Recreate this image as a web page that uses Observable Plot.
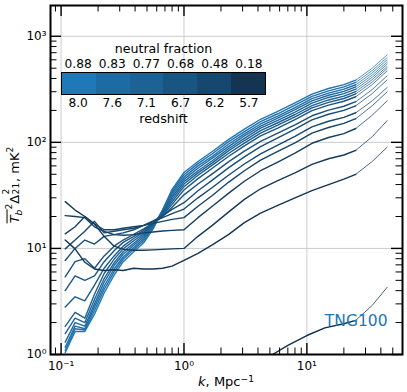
<!DOCTYPE html>
<html><head><meta charset="utf-8">
<script src="https://cdn.jsdelivr.net/npm/d3@7"></script>
<script src="https://cdn.jsdelivr.net/npm/@observablehq/plot@0.6"></script>
<style>
body{margin:0;background:#fff;}
#wrap{position:relative;width:407px;height:392px;font-family:"DejaVu Sans",sans-serif;color:#000;overflow:hidden;}
#wrap svg{position:absolute;left:0;top:0;}
.lab{position:absolute;white-space:nowrap;line-height:0.85;transform:translate(-50%,-50%);}
.lab sub,.lab sup{line-height:0;font-size:0.7em;}
.ss{display:inline-block;position:relative;width:1.0em;height:1em;}
.ss span{position:absolute;left:0.06em;font-size:0.7em;line-height:1;}
.ss .a{top:-0.42em;}
.ss .b{top:0.62em;}
.ov{display:inline-block;border-top:1px solid #000;padding-top:0.5px;line-height:1.15;}
</style></head><body><div id="wrap"></div>
<script>
// ---- data ----
const kThick = [0.108,0.13,0.156,0.187,0.224,0.27,0.32,0.39,0.47,0.56,0.67,0.8,1.0,1.3,1.7,2.3,3.1,4.2,5.8,8,11,15,20,25];
const kThin = [25,34,45];
// each line: thick part values at kThick, then thin values at 34, 45
const p0  = [1.04,1.65,1.65,2.4,3.8,5.6,7.5,9.3,11.3,15.2,23,36,52, 66,82,106,133,165,196,235,285,322,350,386, 500,668];
const p1  = [1.09,1.75,1.7,2.6,4.1,6.0,7.9,9.8,11.8,15.6,23,35,49.5, 63,78,101,126,157,186,224,271,306,333,367, 475,630];
const p2  = [1.17,1.85,1.75,2.8,4.4,6.4,8.3,10.2,12.3,15.9,23,33.5,47, 60,74,96,120,149,177,213,258,291,317,349, 452,600];
const p3  = [1.31,2.0,1.85,3.0,4.8,6.9,8.8,10.7,12.8,16.2,22.5,32,44.8, 57,71,91,115,142,169,203,246,278,302,333, 430,570];
const p4  = [1.57,2.2,2.0,3.3,5.2,7.3,9.3,11.2,13.3,16.5,22,30.5,42.6, 54,67,87,109,136,161,193,234,265,288,317, 410,546];
const p5  = [1.84,2.5,2.2,3.7,5.8,7.9,9.9,11.8,13.8,16.8,21.5,29,40.5, 51.5,64,83,104,129,153,183,222,251,273,301, 390,518];
const p6  = [2.8,3.5,3.2,4.5,6.5,8.5,10.5,12.4,14.3,17,21,27.5,38.2, 49,61,78.5,98.5,122,145,174,211,238,259,286, 370,497];
const p7  = [4.0,5.5,5,5.5,7.5,9.5,11.4,13,14.8,17.2,20.5,26,35.6, 45.5,57,73.5,92.5,115,136,164,199,224,244,269, 350,472];
const p8  = [5.4,7.5,8,6.5,8.5,10.5,12,13.6,15.3,17.3,20,24.5,32, 40.5,50.5,65.5,82.5,102,122,146,178,201,219,242, 314,424];
const p9  = [7.7,10,12,11,13,13.5,14,15,16.5,18.2,20.3,23.3,27, 35,44,57.5,73,91,110,133,163,184,200,221, 288,388];
const p10 = [9.9,12,14.5,18,14,14.5,15,15.5,16.5,17.8,19.5,21.3,23.5, 30,37.5,49,62.5,78,94,114,140,158,172,190, 246,329];
const p11 = [13.7,16,20,17,15,15,15.5,16,16.5,17.2,18,18.8,19.5, 25,31.5,42,54,68,82,99,122,138,151,167, 221,299];
const p12 = [20.4,20,19.5,16,14.5,13.5,13.3,13.5,14,14.3,14.6,14.8,15, 19.5,25,33,43,54,65,79,98,111,121,135, 180,246];
const p13 = [27.6,23,20,17,13,10.5,9.8,9.6,9.6,9.7,9.8,9.9,10, 13,16.5,22,29,36.5,43.5,51.5,62,70,76,84, 113,160];
const p14 = [12.0,9.9,7.4,6.4,6.2,6.3,6.2,6.5,6.4,6.4,6.5,6.8,7.7, 9,10.8,13.5,17.5,21.5,25.5,30,35,40,45,50, 66,90];
const lines = [p0,p1,p2,p3,p4,p5,p6,p7,p8,p9,p10,p11,p12,p13,p14];
// lowest (most ionised) line
const kLastThick = [4.8,5.26,7,10,14,20,25];
const pLastThick = [0.95,1.0,1.22,1.51,1.78,1.95,2.1];
const kLastThin = [25,34,45];
const pLastThin = [2.1,2.9,4.3];

// legend
const legendColors = ["#2178b6","#1e6ba3","#1c6294","#195582","#16486f","#143552"];
const neutralFraction = ["0.88","0.83","0.77","0.68","0.48","0.18"];
const redshift = ["8.0","7.6","7.1","6.7","6.2","5.7"];

// axes
const xMajor = [0.1,1,10];
const xTickLabels = ["10⁻¹","10⁰","10¹"];
const xMinor = [0.09,0.2,0.3,0.4,0.5,0.6,0.7,0.8,0.9,2,3,4,5,6,7,8,9,20,30,40,50];
const yMajor = [1,10,100,1000];
const yTickLabels = ["10⁰","10¹","10²","10³"];
const yMinor = [2,3,4,5,6,7,8,9,20,30,40,50,60,70,80,90,200,300,400,500,600,700,800,900];

// ---- build tables ----
const thickRows = [], thinRows = [];
lines.forEach((arr, id) => {
  kThick.forEach((k, j) => thickRows.push({id, k, p: arr[j]}));
  thinRows.push({id, k: kThin[0], p: arr[kThick.length - 1]});
  thinRows.push({id, k: kThin[1], p: arr[kThick.length]});
  thinRows.push({id, k: kThin[2], p: arr[kThick.length + 1]});
});
kLastThick.forEach((k, j) => thickRows.push({id: 15, k, p: pLastThick[j]}));
kLastThin.forEach((k, j) => thinRows.push({id: 15, k, p: pLastThin[j]}));

const W = 407, H = 392, ML = 50, MR = 5, MT = 5, MB = 38;
const FW = W - ML - MR, FH = H - MT - MB;
const majL = 11, minL = 6.5;
const xFmt = new Map(xMajor.map((v, i) => [v, xTickLabels[i]]));
const yFmt = new Map(yMajor.map((v, i) => [v, yTickLabels[i]]));
const tk = {stroke: "black"};

const chart = Plot.plot({
  width: W, height: H,
  marginLeft: ML, marginRight: MR, marginTop: MT, marginBottom: MB,
  style: {fontFamily: '"DejaVu Sans", sans-serif', fontSize: "12px", background: "white", color: "black", overflow: "visible"},
  x: {type: "log", domain: [0.082, 60]},
  y: {type: "log", domain: [1, 1950]},
  color: {type: "linear", domain: [0, 15], range: ["#2178b6", "#12304c"], interpolate: "rgb"},
  marks: [
    Plot.gridX(xMajor, {stroke: "#cccccc", strokeOpacity: 1, strokeWidth: 1}),
    Plot.gridY(yMajor, {stroke: "#cccccc", strokeOpacity: 1, strokeWidth: 1}),
    Plot.line(thinRows, {x: "k", y: "p", z: "id", stroke: "id", strokeWidth: 0.75, clip: true}),
    Plot.line(thickRows, {x: "k", y: "p", z: "id", stroke: "id", strokeWidth: 1.4, clip: true}),
    Plot.text(["TNG100"], {frameAnchor: "bottom-right", textAnchor: "end", lineAnchor: "middle", dx: -15, dy: -33, fill: "#2077b4", fontSize: 15.5}),
    // inward ticks on all four sides
    Plot.tickX(xMajor, {x: d => d, insetTop: FH - majL, ...tk, strokeWidth: 1.4}),
    Plot.tickX(xMajor, {x: d => d, insetBottom: FH - majL, ...tk, strokeWidth: 1.4}),
    Plot.tickX(xMinor, {x: d => d, insetTop: FH - minL, ...tk, strokeWidth: 1}),
    Plot.tickX(xMinor, {x: d => d, insetBottom: FH - minL, ...tk, strokeWidth: 1}),
    Plot.tickY(yMajor, {y: d => d, insetRight: FW - majL, ...tk, strokeWidth: 1.4}),
    Plot.tickY(yMajor, {y: d => d, insetLeft: FW - majL, ...tk, strokeWidth: 1.4}),
    Plot.tickY(yMinor, {y: d => d, insetRight: FW - minL, ...tk, strokeWidth: 1}),
    Plot.tickY(yMinor, {y: d => d, insetLeft: FW - minL, ...tk, strokeWidth: 1}),
    Plot.axisX(xMajor, {tickSize: 0, tickPadding: 7, tickFormat: d => xFmt.get(d), label: null, fontSize: 12}),
    Plot.axisY(yMajor, {tickSize: 0, tickPadding: 4, tickFormat: d => yFmt.get(d), label: null, fontSize: 12}),
    Plot.frame({stroke: "black", strokeWidth: 2})
  ]
});
const wrap = document.getElementById("wrap");
wrap.appendChild(chart);

function place(html, cx, cy, size, extra) {
  const d = document.createElement("div");
  d.className = "lab";
  d.style.left = cx + "px";
  d.style.top = cy + "px";
  d.style.fontSize = size + "px";
  if (extra) d.style.cssText += extra;
  d.innerHTML = html;
  wrap.appendChild(d);
  return d;
}
// legend
const bx = 61, by = 72, bw = 205, bh = 23;
const box = document.createElement("div");
box.style.cssText = `position:absolute;left:${bx}px;top:${by}px;width:${bw}px;height:${bh}px;border:1.5px solid #000;box-sizing:border-box;display:flex;`;
legendColors.forEach(c => { const s = document.createElement("div"); s.style.cssText = `flex:1;background:${c};`; box.appendChild(s); });
wrap.appendChild(box);
const cw = bw / 6;
place("neutral fraction", bx + bw / 2, 49.2, 12.6);
neutralFraction.forEach((t, i) => place(t, bx + cw * (i + 0.5), 63.8, 12.2));
redshift.forEach((t, i) => place(t, bx + cw * (i + 0.5), 103, 12.2));
place("redshift", bx + bw / 2, 118.5, 12.8);
// axis titles
place('<i>k</i>, Mpc<sup style="vertical-align:0.5em">−1</sup>', 226, 382, 13);
place('<span class="ov"><i>T</i><sub><i>b</i></sub></span><sup style="vertical-align:0.75em">2</sup>Δ<span class="ss"><span class="a">2</span><span class="b">21</span></span>, mK<sup style="vertical-align:0.6em">2</sup>',
  14, 185, 13, "transform:translate(-50%,-50%) rotate(-90deg);line-height:1;");
</script></body></html>
